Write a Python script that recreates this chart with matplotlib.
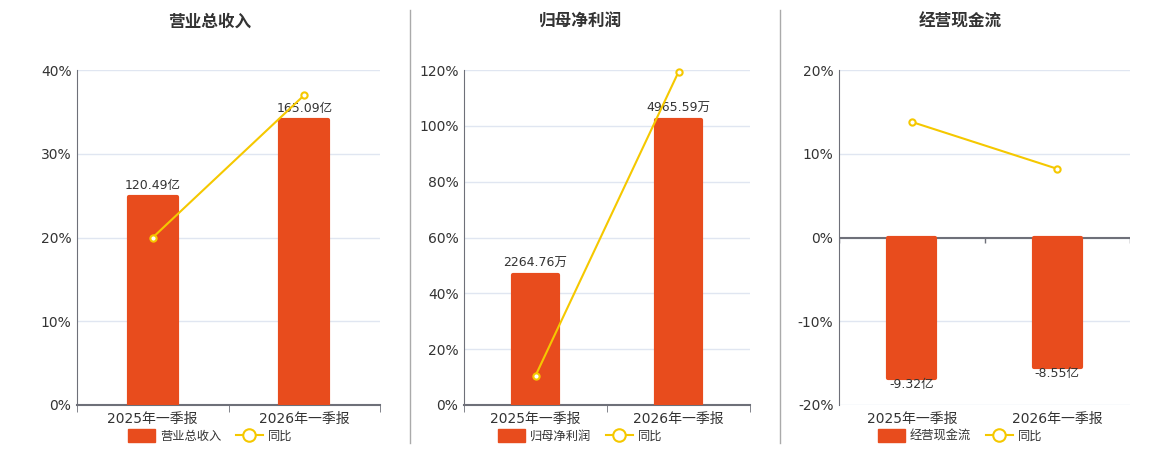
import matplotlib
matplotlib.use('Agg')
import matplotlib.pyplot as plt
from matplotlib.lines import Line2D
from matplotlib.patches import Patch

plt.rcParams['font.family'] = ['DejaVu Sans', 'Noto Sans CJK SC']

# data
categories = ['2025年一季报', '2026年一季报']
titles = ['营业总收入', '归母净利润', '经营现金流']
bar_names = ['营业总收入', '归母净利润', '经营现金流']
bar_values = [[120.49, 165.09], [2264.76, 4965.59], [-9.32, -8.55]]
bar_units = ['亿', '万', '亿']
yoy = [[20.0, 37.0], [10.5, 119.3], [13.8, 8.2]]
pct_ticks = [[0, 10, 20, 30, 40], [0, 20, 40, 60, 80, 100, 120], [-20, -10, 0, 10, 20]]
bar_lims = [(0, 194.3), (0, 5838), (-11.1, 11.1)]

BAR = '#e84c1d'
LINE = '#f5c800'
AXIS = '#6e7079'
GRID = '#e0e6f1'
TEXT = '#333333'

W, H = 1160, 450
fig = plt.figure(figsize=(11.6, 4.5), dpi=100)

# plot boxes in pixels: left, right, top, bottom
boxes = [(77, 380, 70, 405), (464, 750, 70, 405), (839, 1130, 70, 405)]
centers = [210, 580, 960]

for i in range(3):
    l, r, t, b = boxes[i]
    rect = [l / W, 1 - b / H, (r - l) / W, (b - t) / H]
    ax = fig.add_axes(rect)          # percent axis with grid
    axb = ax.twinx()                 # bars
    axl = ax.twinx()                 # line
    x = list(range(len(categories)))

    lo, hi = pct_ticks[i][0], pct_ticks[i][-1]
    for a in (ax, axl):
        a.set_ylim(lo, hi)
        a.set_xlim(-0.5, 1.5)
    axb.set_ylim(*bar_lims[i])
    axb.set_xlim(-0.5, 1.5)

    ax.set_yticks(pct_ticks[i])
    ax.set_yticklabels([f'{v}%' for v in pct_ticks[i]])
    ax.grid(axis='y', color=GRID, linewidth=1)
    ax.set_axisbelow(True)
    ax.tick_params(axis='y', length=0, labelsize=10, labelcolor=TEXT, pad=4)
    ax.set_xticks(x)
    ax.set_xticklabels(categories)
    ax.tick_params(axis='x', length=0, labelsize=10, labelcolor=TEXT, pad=5)
    ax.set_xticks([-0.5, 0.5, 1.5], minor=True)
    for s in ['top', 'right']:
        ax.spines[s].set_visible(False)
    ax.spines['left'].set_color(AXIS)
    ax.spines['bottom'].set_color(AXIS)
    ax.spines['bottom'].set_linewidth(1.5)

    if lo < 0:
        ax.spines['bottom'].set_visible(False)
        ax.axhline(0, color=AXIS, linewidth=1.5, zorder=1)
        ax.vlines([-0.5, 0.5, 1.5], -0.6, 0, color=AXIS, linewidth=1)
        ax.tick_params(axis='x', which='minor', length=0)
    else:
        ax.tick_params(axis='x', which='minor', length=5, color=AXIS, direction='out')

    for a in (axb, axl):
        a.axis('off')

    bars = axb.bar(x, bar_values[i], width=0.32, color=BAR, edgecolor=BAR,
                   linewidth=3, joinstyle='round')
    labels = [f'{v:.2f}{bar_units[i]}' for v in bar_values[i]]
    pad = 0 if min(bar_values[i]) < 0 else 4
    axb.bar_label(bars, labels=labels, padding=pad, fontsize=9, color=TEXT)

    axl.plot(x, yoy[i], color=LINE, linewidth=1.5, marker='o', markersize=4.5,
             markerfacecolor='white', markeredgecolor=LINE, markeredgewidth=1.5,
             zorder=5, clip_on=False)

    fig.text(centers[i] / W, 1 - 22 / H, titles[i], ha='center', va='center',
             fontsize=12, fontweight='bold', color=TEXT)

    handles = [Patch(facecolor=BAR, edgecolor=BAR, label=bar_names[i]),
               Line2D([0], [0], color=LINE, linewidth=1.5, marker='o', markersize=9,
                      markerfacecolor='white', markeredgecolor=LINE,
                      markeredgewidth=1.5, label='同比')]
    fig.legend(handles=handles, loc='center', ncol=2, frameon=False,
               bbox_to_anchor=(centers[i] / W, 1 - 436 / H), fontsize=8.8,
               labelcolor=TEXT, handlelength=2.2, handleheight=1.2,
               columnspacing=1.2, handletextpad=0.4)

# separators between panels
for xs in (410, 780):
    fig.add_artist(Line2D([xs / W, xs / W], [1 - 443 / H, 1 - 10 / H],
                          color='#aaaaaa', linewidth=1))

fig.savefig('out.png', dpi=100)
